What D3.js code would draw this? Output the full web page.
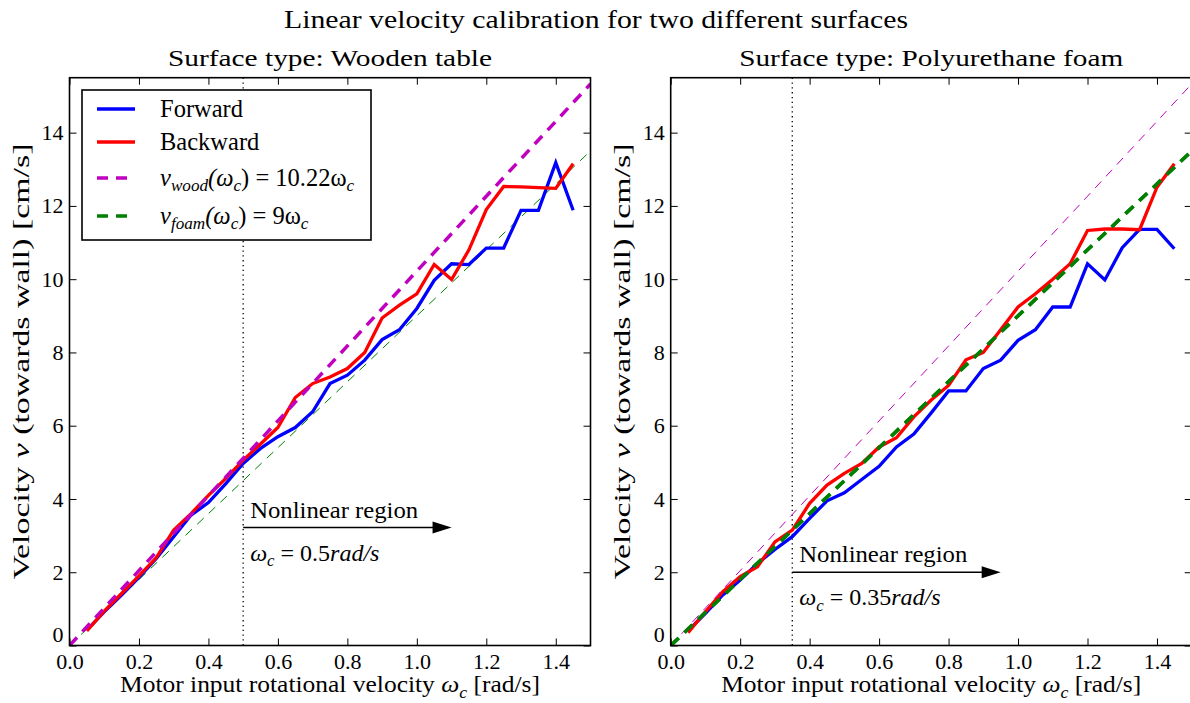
<!DOCTYPE html>
<html>
<head>
<meta charset="utf-8">
<script src="https://cdn.jsdelivr.net/npm/d3@7"></script>
<style>
  body { margin: 0; background: #fff; }
  svg text { font-family: 'Liberation Serif', 'Times New Roman', 'DejaVu Serif', serif; fill: #000; }
</style>
</head>
<body>
<svg width="1190" height="703"></svg>
<script>
// input velocities (rad/s)
var omega = [0.05, 0.10, 0.15, 0.20, 0.25, 0.30, 0.35, 0.40, 0.45, 0.50, 0.55, 0.60, 0.65, 0.70, 0.75,
             0.80, 0.85, 0.90, 0.95, 1.00, 1.05, 1.10, 1.15, 1.20, 1.25, 1.30, 1.35, 1.40, 1.45];

// wooden table
var woodForward  = [0.42, 0.92, 1.38, 1.86, 2.38, 2.97, 3.56, 3.90, 4.42, 4.97, 5.38, 5.70, 5.95, 6.38, 7.15,
                    7.38, 7.79, 8.35, 8.62, 9.20, 9.97, 10.42, 10.40, 10.85, 10.85, 11.88, 11.88, 13.18, 11.88];
var woodBackward = [0.40, 0.94, 1.42, 1.90, 2.40, 3.15, 3.60, 4.10, 4.56, 5.06, 5.50, 5.95, 6.77, 7.15, 7.33,
                    7.56, 8.00, 8.94, 9.29, 9.60, 10.40, 9.99, 10.80, 11.90, 12.53, 12.52, 12.50, 12.48, 13.15];

// polyurethane foam
var foamForward  = [0.40, 0.88, 1.38, 1.79, 2.24, 2.62, 2.97, 3.47, 3.95, 4.17, 4.53, 4.89, 5.42, 5.77, 6.35,
                    6.95, 6.95, 7.56, 7.79, 8.33, 8.62, 9.24, 9.24, 10.42, 9.98, 10.86, 11.36, 11.36, 10.83];
var foamBackward = [0.35, 0.92, 1.47, 1.88, 2.15, 2.83, 3.15, 3.88, 4.38, 4.70, 4.97, 5.42, 5.67, 6.24, 6.70,
                    7.10, 7.80, 8.00, 8.62, 9.24, 9.60, 10.00, 10.42, 11.33, 11.37, 11.37, 11.35, 12.51, 13.15];

// fitted slopes
var slopeWood = 10.22, slopeFoam = 9;
var fitRange = [0, 1.5];

var xTicks = [0, 0.2, 0.4, 0.6, 0.8, 1.0, 1.2, 1.4];
var yTicks = [0, 2, 4, 6, 8, 10, 12, 14];

var FONT = "'Liberation Serif', 'Times New Roman', 'DejaVu Serif', serif";
var svg = d3.select("svg");
var top_ = 77.7, bottom = 645.5, pw = 521;

var panels = [
  {left: 69.5, title: "Surface type: Wooden table", titleLen: 324, fwd: woodForward, bwd: woodBackward,
   wood: {w: 3.5}, foam: {w: 1}, cut: 0.5, arrowY: 3.22, cutLabel: "0.5", legend: true},
  {left: 670.7, title: "Surface type: Polyurethane foam", titleLen: 384, fwd: foamForward, bwd: foamBackward,
   wood: {w: 1}, foam: {w: 3.5}, cut: 0.35, arrowY: 2.0, cutLabel: "0.35", legend: false}
];

// text made of pieces: [text, italic, sub]
function richText(sel, parts, size) {
  var prevSub = false;
  sel.style("font-family", FONT);
  parts.forEach(function(p) {
    var t = sel.append("tspan").text(p[0]);
    if (p[1]) t.style("font-style", "italic");
    if (p[2]) t.attr("font-size", size * 0.7);
    if (p[2] && !prevSub) t.attr("dy", size * 0.22);
    if (!p[2] && prevSub) t.attr("dy", -size * 0.22);
    prevSub = !!p[2];
  });
  return sel;
}

svg.append("text").attr("x", 596).attr("y", 28).attr("text-anchor", "middle")
  .style("font-family", FONT)
  .attr("font-size", 25).attr("textLength", 624).attr("lengthAdjust", "spacingAndGlyphs")
  .text("Linear velocity calibration for two different surfaces");

var defs = svg.append("defs");
defs.append("clipPath").attr("id", "clip").append("rect")
  .attr("x", 0).attr("y", 0).attr("width", pw).attr("height", bottom - top_);

panels.forEach(function(p, i) {
  var x = d3.scaleLinear().domain([0, 1.5]).range([0, pw]);
  var y = d3.scaleLinear().domain([0, 15.5]).range([bottom - top_, 0]);
  var h = bottom - top_;
  var g = svg.append("g").attr("transform", "translate(" + p.left + "," + top_ + ")");

  svg.append("text").attr("x", p.left + pw / 2).attr("y", 66).attr("text-anchor", "middle")
    .style("font-family", FONT)
    .attr("font-size", 24).attr("textLength", p.titleLen).attr("lengthAdjust", "spacingAndGlyphs")
    .text(p.title);

  var plot = g.append("g").attr("clip-path", "url(#clip)");
  var line = d3.line().x(function(d) { return x(d[0]); }).y(function(d) { return y(d[1]); });

  // dotted cut line
  plot.append("line").attr("x1", x(p.cut)).attr("x2", x(p.cut)).attr("y1", 0).attr("y2", h)
    .attr("stroke", "#000").attr("stroke-width", 1.3).attr("stroke-dasharray", "1.3,3.5");

  // fits
  plot.append("path").datum(fitRange.map(function(v) { return [v, slopeFoam * v]; }))
    .attr("d", line).attr("fill", "none").attr("stroke", "#008000")
    .attr("stroke-width", p.foam.w).attr("stroke-dasharray", p.foam.w > 2 ? "11,8" : "9,7");

  plot.append("path").datum(omega.map(function(v, k) { return [v, p.fwd[k]]; }))
    .attr("d", line).attr("fill", "none").attr("stroke", "#0000ff").attr("stroke-width", 3.3);
  plot.append("path").datum(omega.map(function(v, k) { return [v, p.bwd[k]]; }))
    .attr("d", line).attr("fill", "none").attr("stroke", "#ff0000").attr("stroke-width", 3.3);

  plot.append("path").datum(fitRange.map(function(v) { return [v, slopeWood * v]; }))
    .attr("d", line).attr("fill", "none").attr("stroke", "#bf00bf")
    .attr("stroke-width", p.wood.w).attr("stroke-dasharray", p.wood.w > 2 ? "11,8" : "9,7");
  if (i === 1) {
    // green fit drawn above the data on the foam panel
    plot.append("path").datum(fitRange.map(function(v) { return [v, slopeFoam * v]; }))
      .attr("d", line).attr("fill", "none").attr("stroke", "#008000")
      .attr("stroke-width", 3.5).attr("stroke-dasharray", "11,8");
  }

  // arrow
  var ay = y(p.arrowY), ax0 = x(p.cut), ax1 = x(p.cut + 0.6);
  g.append("line").attr("x1", ax0).attr("x2", ax1 - 18).attr("y1", ay).attr("y2", ay)
    .attr("stroke", "#000").attr("stroke-width", 1.5);
  g.append("path").attr("d", "M" + (ax1 - 19) + "," + (ay - 6) + "L" + ax1 + "," + ay + "L" + (ax1 - 19) + "," + (ay + 6) + "Z")
    .attr("fill", "#000");
  g.append("text").attr("x", ax0 + 7).attr("y", ay - 10).attr("font-size", 24)
    .attr("textLength", 168).attr("lengthAdjust", "spacingAndGlyphs")
    .style("font-family", FONT).text("Nonlinear region");
  richText(g.append("text").attr("x", ax0 + 7).attr("y", ay + 33).attr("font-size", 24),
    [["ω", true], ["c", true, true], [" = " + p.cutLabel, false], ["rad/s", true]], 24);

  // axes with inward ticks on all sides
  var ax = g.append("g").attr("transform", "translate(0," + h + ")")
    .call(d3.axisBottom(x).tickValues(xTicks).tickFormat(d3.format(".1f")).tickSizeInner(-7).tickSizeOuter(0).tickPadding(8));
  var ay_ = g.append("g")
    .call(d3.axisLeft(y).tickValues(yTicks).tickFormat(d3.format("d")).tickSizeInner(-7).tickSizeOuter(0).tickPadding(6));
  var at = g.append("g").call(d3.axisTop(x).tickValues(xTicks).tickFormat("").tickSizeInner(-7).tickSizeOuter(0));
  var ar = g.append("g").attr("transform", "translate(" + pw + ",0)")
    .call(d3.axisRight(y).tickValues(yTicks).tickFormat("").tickSizeInner(-7).tickSizeOuter(0));
  [ax, ay_, at, ar].forEach(function(a) {
    a.attr("font-family", null);
    a.select(".domain").remove();
    a.selectAll("line").attr("stroke", "#000").attr("stroke-width", 1);
    a.selectAll("text").attr("font-size", 22).style("font-family", FONT).attr("fill", "#000");
  });
  // keep the zero labels from colliding in the corner
  ay_.selectAll(".tick").filter(function(d) { return d === 0; }).select("text").attr("dy", "-0.2em");

  g.append("rect").attr("width", pw).attr("height", h).attr("fill", "none")
    .attr("stroke", "#000").attr("stroke-width", 1.6);

  // axis labels
  richText(g.append("text").attr("x", pw / 2).attr("y", h + 47).attr("text-anchor", "middle")
    .attr("font-size", 23).attr("textLength", 420).attr("lengthAdjust", "spacingAndGlyphs"),
    [["Motor input rotational velocity ", false], ["ω", true], ["c", true, true], [" [rad/s]", false]], 23);
  richText(g.append("text").attr("transform", "translate(-41," + h / 2 + ") rotate(-90)")
    .attr("text-anchor", "middle").attr("font-size", 23).attr("textLength", 436).attr("lengthAdjust", "spacingAndGlyphs"),
    [["Velocity ", false], ["v", true], [" (towards wall) [cm/s]", false]], 23);

  if (p.legend) {
    var items = [
      {label: [["Forward", false]], color: "#0000ff", w: 3.3, dash: null},
      {label: [["Backward", false]], color: "#ff0000", w: 3.3, dash: null},
      {label: [["v", true], ["wood", true, true], ["(ω", true], ["c", true, true], [") = 10.22ω", false], ["c", true, true]], color: "#bf00bf", w: 3.5, dash: "11,8"},
      {label: [["v", true], ["foam", true, true], ["(ω", true], ["c", true, true], [") = 9ω", false], ["c", true, true]], color: "#008000", w: 3.5, dash: "11,8"}
    ];
    var lg = g.append("g").attr("transform", "translate(12.5,12.3)");
    lg.append("rect").attr("width", 289).attr("height", 150).attr("fill", "#fff")
      .attr("stroke", "#000").attr("stroke-width", 1.6);
    var rows = [19, 52, 88, 126];
    items.forEach(function(it, k) {
      lg.append("line").attr("x1", 15).attr("x2", 53).attr("y1", rows[k]).attr("y2", rows[k])
        .attr("stroke", it.color).attr("stroke-width", it.w).attr("stroke-dasharray", it.dash);
      richText(lg.append("text").attr("x", 78).attr("y", rows[k] + 8).attr("font-size", 24.5), it.label, 24.5);
    });
  }
});
</script>
</body>
</html>
